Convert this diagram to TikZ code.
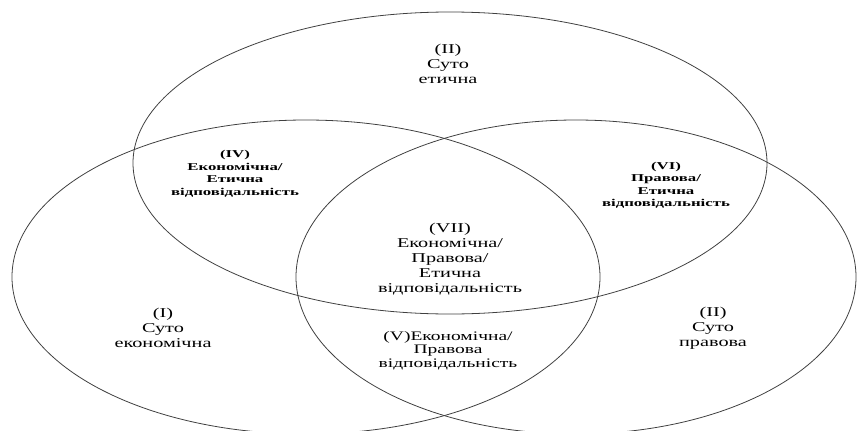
\documentclass[tikz,border=0pt]{standalone}
\usepackage{fontspec}
\setmainfont{Liberation Serif}
\usetikzlibrary{shapes.geometric}
\begin{document}
\begin{tikzpicture}[x=1pt,y=-1pt,
 ring/.style={draw=black!75, line width=0.8pt, ellipse, inner sep=0pt},
 lab/.style={align=center, font=\fontsize{13.5}{15}\selectfont, xscale=1.5, transform shape, inner sep=0pt},
 labv/.style={align=center, font=\fontsize{13}{13.5}\selectfont, xscale=1.5, transform shape, inner sep=0pt},
 sml/.style={align=center, font=\bfseries\fontsize{10.5}{12.5}\selectfont, xscale=1.6, transform shape, inner sep=0pt}]
\useasboundingbox (0,0) rectangle (857,431);
\node[ring, minimum width=634pt, minimum height=302pt] (top) at (450,163) {};
\node[ring, minimum width=588pt, minimum height=314pt] (left) at (306,277) {};
\node[ring, minimum width=560pt, minimum height=314pt] (right) at (576,277) {};
\node[lab] (t2) at (448,63.5) {(II)\\Суто\\етична};
\node[sml] (t4) at (235,174) {(IV)\\Економічна/\\Етична\\відповідальність};
\node[sml] (t6) at (666,185.5) {(VI)\\Правова/\\Етична\\відповідальність};
\node[lab] (t7) at (450,259) {(VII)\\Економічна/\\Правова/\\Етична\\відповідальність};
\node[lab] (t1) at (163,328) {(I)\\Суто\\економічна};
\node[labv] (t5) at (448,350.5) {(V)Економічна/\\Правова\\відповідальність};
\node[lab] (t3) at (713,328) {(II)\\Суто\\правова};
\end{tikzpicture}
\end{document}
